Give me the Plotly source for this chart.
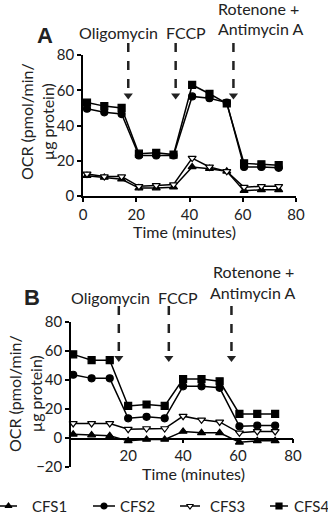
import plotly.graph_objects as go

# Seahorse OCR measurements (time in minutes)
time_a = [1.5, 8, 14.5, 21, 27.5, 34, 41, 47.5, 54, 60.5, 67, 73.5]
time_b = [0, 6.7, 13.3, 20, 26.7, 33.3, 40, 46.7, 53.3, 60.5, 67, 73.5]

series = ["CFS1", "CFS2", "CFS3", "CFS4"]

ocr_a_cfs1 = [11.5, 10.5, 9.5, 4.5, 4.5, 5, 16.5, 15.5, 14, 3, 3.5, 3.5]
ocr_a_cfs2 = [49.5, 47.5, 46.5, 23, 23, 23, 56.5, 55.5, 53, 16.5, 16.5, 16]
ocr_a_cfs3 = [12.5, 11, 11, 5.5, 6, 6.5, 21.5, 16.5, 14, 5, 5.5, 5.5]
ocr_a_cfs4 = [53, 51, 50, 24, 24.5, 23.5, 63, 58, 52.5, 18.5, 18, 17.5]

ocr_b_cfs1 = [2.5, 2, 1.5, -2, -1, -1, 4.5, 3.5, 3.5, -3, -2, -2]
ocr_b_cfs2 = [43.5, 41, 41, 13.5, 14.5, 13.5, 35.5, 35.5, 34.5, 8, 8.5, 8.5]
ocr_b_cfs3 = [10, 10, 10, 6, 6.5, 6.5, 15, 12.5, 11, 3.5, 4.5, 4.5]
ocr_b_cfs4 = [57.5, 53.5, 53.5, 22, 23, 22, 40.5, 40.5, 39, 16.5, 16.5, 16.5]

# injection times (arrows)
inject_a = [17, 34.8, 56.5]
inject_b = [16.6, 34.8, 57.6]

x_ticks_a = [0, 20, 40, 60, 80]
x_ticks_b = [20, 40, 60, 80]
y_ticks_a = [0, 20, 40, 60, 80]
y_ticks_b = [-20, 0, 20, 40, 60, 80]

W, H = 328, 516
FONT = "Lato"


def px(x):
    return x / W


def py(y):
    return 1 - y / H


symbols = {"CFS1": "triangle-up", "CFS2": "circle",
           "CFS3": "triangle-down", "CFS4": "square"}

# hand-made legend: (line start, line end, text start) in pixels
legend_pos = {"CFS1": (0, 17, 30), "CFS2": (93, 115, 118),
              "CFS3": (180, 200, 208), "CFS4": (270, 288, 292)}

fig = go.Figure()


def marker_for(name, size=7):
    return dict(symbol=symbols[name], size=size,
                color="white" if name == "CFS3" else "black",
                line=dict(color="black", width=1.2))


for name, ya, yb in zip(series,
                        [ocr_a_cfs1, ocr_a_cfs2, ocr_a_cfs3, ocr_a_cfs4],
                        [ocr_b_cfs1, ocr_b_cfs2, ocr_b_cfs3, ocr_b_cfs4]):
    fig.add_trace(go.Scatter(x=time_a, y=ya, mode="lines+markers", name=name,
                             line=dict(color="black", width=1.5), marker=marker_for(name),
                             xaxis="x", yaxis="y", cliponaxis=False))
    fig.add_trace(go.Scatter(x=time_b, y=yb, mode="lines+markers", name=name,
                             line=dict(color="black", width=1.5), marker=marker_for(name),
                             xaxis="x2", yaxis="y2", cliponaxis=False))
    x0, x1, _ = legend_pos[name]
    fig.add_trace(go.Scatter(x=[x0, x1], y=[0.5, 0.5], mode="lines",
                             line=dict(color="black", width=1.5),
                             xaxis="x3", yaxis="y3", hoverinfo="skip", cliponaxis=False))
    fig.add_trace(go.Scatter(x=[(x0 + x1) / 2], y=[0.5], mode="markers",
                             marker=marker_for(name, 6),
                             xaxis="x3", yaxis="y3", hoverinfo="skip", cliponaxis=False))

# arrowheads
fig.add_trace(go.Scatter(x=inject_a, y=[57] * 3, mode="markers",
                         marker=dict(symbol="triangle-down", size=8, color="#222"),
                         xaxis="x", yaxis="y", cliponaxis=False, hoverinfo="skip"))
fig.add_trace(go.Scatter(x=inject_b, y=[55] * 3, mode="markers",
                         marker=dict(symbol="triangle-down", size=8, color="#222"),
                         xaxis="x2", yaxis="y2", cliponaxis=False, hoverinfo="skip"))

shapes = []
for t in inject_a:
    shapes.append(dict(type="line", xref="x", yref="paper", x0=t, x1=t,
                       y0=py(43), y1=py(92), line=dict(color="#222", width=2.5, dash="dash")))
for t in inject_b:
    shapes.append(dict(type="line", xref="x2", yref="paper", x0=t, x1=t,
                       y0=py(306), y1=py(353), line=dict(color="#222", width=2.5, dash="dash")))

axis_common = dict(showline=True, linecolor="black", linewidth=1.5, ticks="outside",
                   ticklen=4, tickwidth=1.5, tickcolor="black", showgrid=False,
                   zeroline=False, tickfont=dict(size=15, color="#222", family=FONT))
hidden = dict(visible=False, showgrid=False, zeroline=False)

ann_font = dict(size=16, color="#222", family=FONT)
annotations = [
    dict(text="<b>A</b>", x=px(45), y=py(35), font=dict(size=22, color="#222", family="Liberation Sans")),
    dict(text="<b>B</b>", x=px(32), y=py(297), font=dict(size=22, color="#222", family="Liberation Sans")),
    dict(text="Oligomycin", x=px(118), y=py(32), font=ann_font),
    dict(text="FCCP", x=px(186), y=py(32), font=ann_font),
    dict(text="Rotenone +", x=px(258), y=py(8), font=ann_font),
    dict(text="Antimycin A", x=px(260), y=py(29), font=ann_font),
    dict(text="Oligomycin", x=px(110), y=py(297), font=ann_font),
    dict(text="FCCP", x=px(178), y=py(297), font=ann_font),
    dict(text="Rotenone +", x=px(253), y=py(271), font=ann_font),
    dict(text="Antimycin A", x=px(252), y=py(292), font=ann_font),
    dict(text="OCR (pmol/min/<br>µg protein)", x=px(37), y=py(122), textangle=-90, font=ann_font),
    dict(text="OCR (pmol/min/<br>µg protein)", x=px(25), y=py(394), textangle=-90, font=ann_font),
    dict(text="Time (minutes)", x=px(184), y=py(231), font=ann_font),
    dict(text="Time (minutes)", x=px(193), y=py(473), font=ann_font),
]
for a in annotations:
    a.update(xref="paper", yref="paper", showarrow=False, xanchor="center", yanchor="middle")
for name in series:
    annotations.append(dict(text=name, x=legend_pos[name][2], y=0.5, xref="x3", yref="y3",
                            xanchor="left", yanchor="middle", showarrow=False,
                            font=dict(size=15, color="#222", family=FONT)))

fig.update_layout(
    width=W, height=H,
    margin=dict(l=0, r=0, t=0, b=0, autoexpand=False),
    paper_bgcolor="white", plot_bgcolor="white",
    font=dict(family=FONT, size=16, color="#222"),
    xaxis=dict(domain=[px(83), px(296)], range=[0, 80], tickvals=x_ticks_a,
               anchor="y", **axis_common),
    yaxis=dict(domain=[py(196), py(55)], range=[0, 80], tickvals=y_ticks_a,
               anchor="x", **axis_common),
    xaxis2=dict(domain=[px(71), px(293)], range=[-0.8, 80], tickvals=x_ticks_b,
                anchor="free", position=py(438.5), **axis_common),
    yaxis2=dict(domain=[py(467), py(321.7)], range=[-20, 80], tickvals=y_ticks_b,
                anchor="x2", **axis_common),
    xaxis3=dict(domain=[0, 1], range=[0, W], anchor="y3", **hidden),
    yaxis3=dict(domain=[py(516), py(496)], range=[0, 1], anchor="x3", **hidden),
    shapes=shapes,
    annotations=annotations,
    showlegend=False,
)

fig.write_html("out.html", config={"displayModeBar": False},
               post_script="document.body.style.margin='0px';")
